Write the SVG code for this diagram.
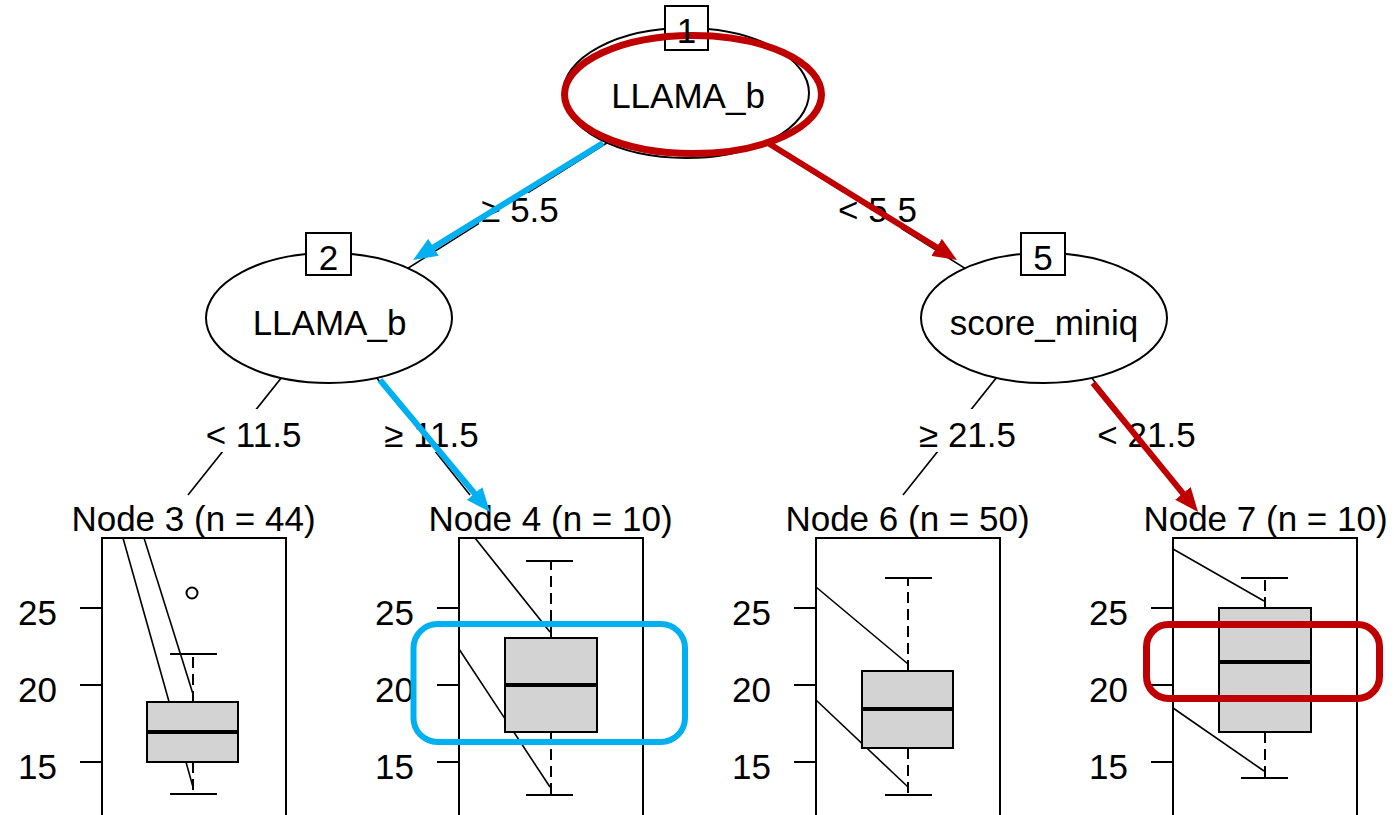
<svg xmlns="http://www.w3.org/2000/svg" width="1394" height="815" viewBox="0 0 1394 815">
<defs>
<style>
text{font-family:"Liberation Sans",Arial,sans-serif;font-size:35px;fill:#000}
.mid{text-anchor:middle}
.end{text-anchor:end}
.edge{stroke:#000;stroke-width:1.6;fill:none}
.lab-bg{fill:#fff}
.inner{fill:#fff;stroke:#000;stroke-width:2}
.idbox{fill:#fff;stroke:#000;stroke-width:2}
.frame{fill:#fff;stroke:#000;stroke-width:2}
.tick{stroke:#000;stroke-width:2}
.box{fill:#d3d3d3;stroke:#000;stroke-width:2}
.med{stroke:#000;stroke-width:4}
.cap{stroke:#000;stroke-width:2}
.whisk{stroke:#000;stroke-width:2;stroke-dasharray:11 6}
.trace{stroke:#000;stroke-width:1.6;fill:none}
.out{fill:none;stroke:#000;stroke-width:2}
.hl-blue{stroke:#00b0f0;stroke-width:6;fill:none}
.hl-red{stroke:#c00000;stroke-width:7;fill:none}
.path-blue{stroke:#00b0f0;stroke-width:6;fill:none}
.path-red{stroke:#c00000;stroke-width:6;fill:none}
</style>
<marker id="ah-blue" markerUnits="userSpaceOnUse" markerWidth="24" markerHeight="20" viewBox="0 0 24 20" refX="10" refY="10" orient="auto"><path d="M0,0 L24,10 L0,20 z" fill="#00b0f0"/></marker>
<marker id="ah-red" markerUnits="userSpaceOnUse" markerWidth="24" markerHeight="20" viewBox="0 0 24 20" refX="10" refY="10" orient="auto"><path d="M0,0 L24,10 L0,20 z" fill="#c00000"/></marker>
</defs>

<rect width="1394" height="815" fill="#fff"/>

<!-- tree edges with split labels -->
<g id="connectors">
  <line class="edge" x1="686" y1="93" x2="329" y2="318"/>
  <line class="edge" x1="686" y1="93" x2="1044" y2="318"/>
  <line class="edge" x1="329" y1="318" x2="188" y2="495"/>
  <line class="edge" x1="329" y1="318" x2="470" y2="495"/>
  <line class="edge" x1="1044" y1="318" x2="903" y2="495"/>
  <line class="edge" x1="1044" y1="318" x2="1185" y2="495"/>
  <rect class="lab-bg" x="479" y="193" width="83" height="36"/>
  <text class="mid" x="520" y="222">≥ 5.5</text>
  <rect class="lab-bg" x="836" y="193" width="83" height="36"/>
  <text class="mid" x="877.5" y="222">&lt; 5.5</text>
  <rect class="lab-bg" x="204" y="409" width="99" height="43"/>
  <text class="mid" x="253.5" y="447">&lt; 11.5</text>
  <rect class="lab-bg" x="382" y="409" width="99" height="43"/>
  <text class="mid" x="431.5" y="447">≥ 11.5</text>
  <rect class="lab-bg" x="918" y="409" width="99" height="43"/>
  <text class="mid" x="967.5" y="447">≥ 21.5</text>
  <rect class="lab-bg" x="1097" y="409" width="99" height="43"/>
  <text class="mid" x="1146.5" y="447">&lt; 21.5</text>
</g>

<!-- inner split nodes -->
<g id="node1">
  <ellipse class="inner" cx="686" cy="93" rx="123" ry="65"/>
  <rect class="idbox" x="665" y="6" width="43" height="44"/>
  <ellipse class="hl-red" cx="693" cy="94.5" rx="128.5" ry="59"/>
  <text class="mid" x="686.5" y="43">1</text>
  <text class="mid" x="688" y="108">LLAMA_b</text>
</g>
<g id="node2">
  <ellipse class="inner" cx="329" cy="318" rx="123" ry="65"/>
  <rect class="idbox" x="306" y="233" width="45" height="42"/>
  <text class="mid" x="328.5" y="270">2</text>
  <text class="mid" x="329.5" y="335">LLAMA_b</text>
</g>
<g id="node5">
  <ellipse class="inner" cx="1044" cy="318" rx="123" ry="65"/>
  <rect class="idbox" x="1021" y="233" width="44" height="42"/>
  <text class="mid" x="1043" y="270">5</text>
  <text class="mid" x="1044" y="335">score_miniq</text>
</g>

<!-- terminal nodes: boxplot panels -->
<g id="node3">
  <text class="mid" x="193.5" y="531">Node 3 (n = 44)</text>
  <rect class="frame" x="102" y="538" width="184" height="300"/>
  <line class="tick" x1="80" y1="608" x2="102" y2="608"/>
  <line class="tick" x1="80" y1="685" x2="102" y2="685"/>
  <line class="tick" x1="80" y1="762" x2="102" y2="762"/>
  <text class="end" x="57" y="624.5">25</text>
  <text class="end" x="57" y="701.5">20</text>
  <text class="end" x="57" y="778.5">15</text>
  <line class="trace" x1="123" y1="538" x2="193" y2="787"/>
  <line class="trace" x1="144" y1="538" x2="193" y2="694"/>
  <line class="whisk" x1="193" y1="702" x2="193" y2="654"/>
  <line class="whisk" x1="193" y1="762" x2="193" y2="794"/>
  <rect class="box" x="147" y="702" width="91" height="60"/>
  <line class="med" x1="146" y1="732" x2="239" y2="732"/>
  <line class="cap" x1="170" y1="654" x2="217" y2="654"/>
  <line class="cap" x1="170" y1="794" x2="217" y2="794"/>
  <circle class="out" cx="192" cy="593" r="5.5"/>
</g>
<g id="node4">
  <text class="mid" x="550.5" y="531">Node 4 (n = 10)</text>
  <rect class="frame" x="459" y="538" width="184" height="300"/>
  <line class="tick" x1="437" y1="608" x2="459" y2="608"/>
  <line class="tick" x1="437" y1="685" x2="459" y2="685"/>
  <line class="tick" x1="437" y1="762" x2="459" y2="762"/>
  <text class="end" x="414" y="624.5">25</text>
  <text class="end" x="414" y="701.5">20</text>
  <text class="end" x="414" y="778.5">15</text>
  <line class="trace" x1="475" y1="538" x2="550" y2="632"/>
  <line class="trace" x1="459" y1="649" x2="550" y2="787"/>
  <line class="whisk" x1="551" y1="638" x2="551" y2="561"/>
  <line class="whisk" x1="551" y1="732" x2="551" y2="795"/>
  <rect class="box" x="505" y="638" width="92" height="94"/>
  <line class="med" x1="504" y1="685" x2="598" y2="685"/>
  <line class="cap" x1="526" y1="561" x2="573" y2="561"/>
  <line class="cap" x1="526" y1="795" x2="573" y2="795"/>
  <rect class="hl-blue" x="413.5" y="624" width="271.5" height="118" rx="24"/>
</g>
<g id="node6">
  <text class="mid" x="907.5" y="531">Node 6 (n = 50)</text>
  <rect class="frame" x="816" y="538" width="184" height="300"/>
  <line class="tick" x1="794" y1="608" x2="816" y2="608"/>
  <line class="tick" x1="794" y1="685" x2="816" y2="685"/>
  <line class="tick" x1="794" y1="762" x2="816" y2="762"/>
  <text class="end" x="771" y="624.5">25</text>
  <text class="end" x="771" y="701.5">20</text>
  <text class="end" x="771" y="778.5">15</text>
  <line class="trace" x1="816" y1="587" x2="908" y2="664"/>
  <line class="trace" x1="816" y1="700" x2="908" y2="787"/>
  <line class="whisk" x1="908" y1="671" x2="908" y2="578"/>
  <line class="whisk" x1="908" y1="748" x2="908" y2="795"/>
  <rect class="box" x="862" y="671" width="91" height="77"/>
  <line class="med" x1="861" y1="709" x2="954" y2="709"/>
  <line class="cap" x1="885" y1="578" x2="932" y2="578"/>
  <line class="cap" x1="885" y1="795" x2="932" y2="795"/>
</g>
<g id="node7">
  <text class="mid" x="1265.5" y="531">Node 7 (n = 10)</text>
  <rect class="frame" x="1173" y="538" width="184" height="300"/>
  <line class="tick" x1="1151" y1="608" x2="1173" y2="608"/>
  <line class="tick" x1="1151" y1="685" x2="1173" y2="685"/>
  <line class="tick" x1="1151" y1="762" x2="1173" y2="762"/>
  <text class="end" x="1128" y="624.5">25</text>
  <text class="end" x="1128" y="701.5">20</text>
  <text class="end" x="1128" y="778.5">15</text>
  <line class="trace" x1="1173" y1="549" x2="1264" y2="601"/>
  <line class="trace" x1="1173" y1="708" x2="1264" y2="771"/>
  <line class="whisk" x1="1265" y1="608" x2="1265" y2="578"/>
  <line class="whisk" x1="1265" y1="732" x2="1265" y2="778"/>
  <rect class="box" x="1219" y="608" width="92" height="124"/>
  <line class="med" x1="1218" y1="662" x2="1312" y2="662"/>
  <line class="cap" x1="1241" y1="578" x2="1288" y2="578"/>
  <line class="cap" x1="1241" y1="778" x2="1288" y2="778"/>
  <rect class="hl-red" x="1146.5" y="624.5" width="233" height="74" rx="22"/>
</g>

<!-- highlighted decision paths -->
<g id="paths">
  <line class="path-blue" x1="603" y1="143" x2="425" y2="252.6" marker-end="url(#ah-blue)"/>
  <line class="path-blue" x1="380" y1="380" x2="481" y2="501.2" marker-end="url(#ah-blue)"/>
  <line class="path-red" x1="768" y1="143" x2="945.1" y2="252.6" marker-end="url(#ah-red)"/>
  <line class="path-red" x1="1093" y1="383" x2="1189.2" y2="501.1" marker-end="url(#ah-red)"/>
</g>
</svg>
